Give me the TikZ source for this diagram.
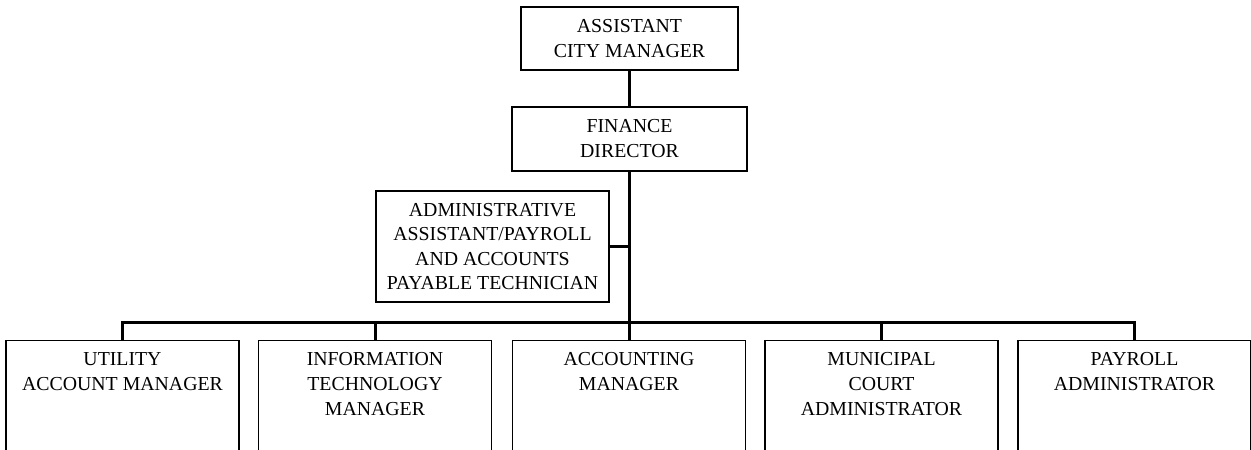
\documentclass[tikz,border=0pt]{standalone}
\usepackage{fontspec}
\setmainfont{Liberation Serif}
\begin{document}
\begin{tikzpicture}[x=1pt,y=-1pt,
  box/.style={draw, line width=1.2pt, inner sep=0pt, align=center,
    font=\fontsize{19.8}{25}\selectfont},
  bbox/.style={draw, line width=1.2pt, inner sep=0pt, anchor=north,
    minimum width=233pt, minimum height=130pt},
  btext/.style={inner sep=0pt, anchor=north, align=center,
    font=\fontsize{19.8}{25}\selectfont},
  conn/.style={line width=3pt, line join=miter}]
\useasboundingbox (0,0) rectangle (1251,450);
\clip (0,0) rectangle (1251,450);
\node[box, minimum width=217pt, minimum height=63pt] (acm) at (629.5,38.5) {ASSISTANT\\CITY MANAGER};
\node[box, minimum width=235pt, minimum height=64pt] (fd) at (629.5,139) {FINANCE\\DIRECTOR};
\node[box, minimum width=233pt, minimum height=111pt, font=\fontsize{19.8}{24.4}\selectfont] (adm) at (492.5,246.5) {ADMINISTRATIVE\\ASSISTANT/PAYROLL\\AND ACCOUNTS\\PAYABLE TECHNICIAN};
\node[bbox] (u) at (122.5,340) {};
\node[bbox] (it) at (375,340) {};
\node[bbox] (ac) at (629,340) {};
\node[bbox] (mc) at (881.5,340) {};
\node[bbox] (pa) at (1134.5,340) {};
\node[btext] (ut) at ([yshift=-12pt]u.north) {UTILITY\\ACCOUNT MANAGER};
\node[btext] (itt) at ([yshift=-12pt]it.north) {INFORMATION\\TECHNOLOGY\\MANAGER};
\node[btext] (act) at ([yshift=-12pt]ac.north) {ACCOUNTING\\MANAGER};
\node[btext] (mct) at ([yshift=-12pt]mc.north) {MUNICIPAL\\COURT\\ADMINISTRATOR};
\node[btext] (pat) at ([yshift=-12pt]pa.north) {PAYROLL\\ADMINISTRATOR};
\coordinate (bus) at (629,322);
\draw[conn] (acm.south) -- (fd.south |- acm.south) -- (fd.north);
\draw[conn] (fd.south) -- (fd.south |- bus);
\draw[conn] (adm.east) -- (adm.east -| bus);
\draw[conn] (u.north) |- (bus) -| (pa.north);
\draw[conn] (it.north) -- (it.north |- bus);
\draw[conn] (ac.north) -- (ac.north |- bus);
\draw[conn] (mc.north) -- (mc.north |- bus);
\end{tikzpicture}
\end{document}
